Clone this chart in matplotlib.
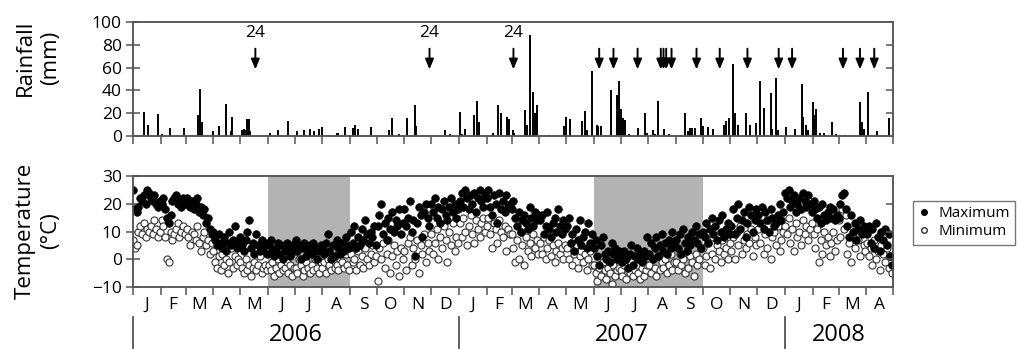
import matplotlib
matplotlib.use('Agg')
import matplotlib.pyplot as plt
import matplotlib.dates as mdates
from matplotlib.lines import Line2D
import numpy as np
import pandas as pd

plt.rcParams['font.family'] = ['Open Sans', 'DejaVu Sans']

start = pd.Timestamp('2006-01-01')
end = pd.Timestamp('2008-05-01')

# rain days (days since 1 Jan 2006) and daily totals in mm
rain_day = [12, 17, 28, 33, 41, 57, 73, 75, 77, 90, 96, 104, 110, 111, 122, 124, 126, 128, 130, 131,
            149, 153, 162, 174, 184, 188, 192, 198, 203, 208, 212, 218, 228, 230, 237, 246, 249, 252,
            267, 287, 290, 298, 307, 316, 317, 349, 355, 366, 368, 372, 382, 385, 387, 403, 409, 412,
            419, 421, 425, 427, 439, 441, 445, 448, 450, 452, 466, 483, 485, 489, 503, 506, 508, 514,
            519, 521, 524, 535, 542, 544, 546, 549, 551, 555, 565, 573, 575, 582, 584, 588, 595, 600,
            618, 622, 624, 626, 629, 636, 638, 644, 649, 662, 664, 667, 672, 674, 678, 686, 691, 698,
            702, 706, 714, 716, 720, 722, 731, 741, 749, 750, 754, 756, 761, 763, 765, 769, 774, 783,
            787, 797, 814, 816, 819, 823, 833, 847]
rain_mm = [21, 10, 19, 2, 7, 7, 18, 41, 12, 4, 9, 28, 4, 17, 5, 6, 5, 15, 15, 4,
           1, 3, 5, 13, 4, 1, 5, 6, 4, 6, 8, 1, 3, 3, 8, 7, 10, 6,
           8, 5, 16, 2, 16, 27, 9, 5, 2, 21, 2, 6, 18, 31, 12, 3, 27, 20,
           17, 15, 5, 3, 23, 10, 89, 39, 20, 27, 1, 9, 17, 15, 13, 22, 5, 57,
           10, 9, 9, 40, 36, 48, 24, 16, 14, 2, 7, 20, 3, 5, 2, 31, 6, 2,
           20, 4, 7, 7, 7, 16, 9, 8, 6, 10, 13, 16, 63, 20, 10, 20, 10, 11,
           48, 25, 38, 6, 51, 5, 8, 6, 46, 17, 10, 5, 30, 18, 24, 3, 3, 12,
           2, 1, 30, 12, 6, 39, 4, 16]

# marked events
arrow_day = [137, 332, 426, 522, 538, 565, 591, 594, 597, 603, 631, 657, 688, 723, 738, 795, 814, 830]
arrow_label = ['24', '24', '24'] + [''] * 15

# daily max / min temperature (degC), one reading every 2 days from 1 Jan 2006
tmax = [25, 18, 17, 19, 22, 21, 23, 20, 25, 24, 22, 21, 23, 20, 19, 21,   # Jan 06
        20, 22, 18, 15, 13, 16, 21, 22, 23, 20, 21, 19, 22, 20,           # Feb
        22, 20, 19, 21, 18, 20, 22, 17, 19, 16, 18, 13, 15, 11, 9,        # Mar
        10, 7, 5, 9, 6, 4, 8, 3, 6, 10, 5, 7, 12, 4, 6,                   # Apr
        8, 5, 3, 7, 10, 14, 4, 6, 2, 9, 5, 3, 7, 4, 6, 2,                 # May
        5, 7, 3, 1, 4, 6, 2, 5, 0, 3, 6, 4, 1, 5, 3,                      # Jun
        7, 3, 5, 0, 4, 6, 1, 3, 5, 2, 6, 4, 0, 3, 5,                      # Jul
        4, 2, 6, 9, 3, 0, 5, 1, 7, 4, 2, 6, 3, 8, 5, 4,                   # Aug
        10, 6, 12, 4, 8, 5, 11, 7, 14, 9, 6, 10, 8, 12, 5,                # Sep
        12, 16, 20, 9, 13, 7, 15, 11, 17, 10, 14, 12, 18, 9, 13,          # Oct
        18, 12, 15, 21, 10, 14, 1, 13, 19, 16, 8, 17, 20, 15, 12,         # Nov
        20, 17, 22, 15, 19, 13, 18, 21, 16, 14, 19, 22, 17, 20, 15, 18,   # Dec
        21, 24, 19, 25, 22, 18, 23, 20, 24, 17, 22, 25, 21, 19, 23,       # Jan 07
        22, 25, 19, 16, 23, 20, 13, 24, 18, 21, 17, 23, 19, 20,           # Feb
        18, 21, 15, 12, 17, 10, 14, 16, 13, 11, 19, 15, 12, 17, 14, 16,   # Mar
        14, 16, 9, 12, 17, 11, 8, 13, 15, 10, 18, 12, 9, 14, 11,          # Apr
        12, 15, 6, 9, 3, 11, 7, 14, 5, 8, 10, 4, 13, 6, 9,                # May
        4, 7, 1, -2, 5, 8, 2, 0, 3, -1, 6, 2, 4, 0, 3,                    # Jun
        1, -1, 3, 0, -3, 2, 5, -2, 1, 4, 0, 2, -1, 3, 1, 8,               # Jul
        2, 6, 0, 4, 8, 1, 5, 9, 3, 6, 2, 7, 4, 10, 5,                     # Aug
        7, 4, 9, 2, 11, 6, 3, 8, 5, 10, 7, 12, 6, 9, 4,                   # Sep
        10, 8, 13, 6, 11, 15, 9, 12, 7, 14, 10, 16, 8, 11, 13, 9,         # Oct
        12, 18, 9, 15, 20, 11, 14, 17, 8, 13, 19, 16, 10, 14, 18,         # Nov
        16, 13, 19, 11, 17, 14, 10, 18, 15, 12, 13, 16, 20, 14, 17,       # Dec
        24, 22, 25, 19, 21, 23, 17, 20, 22, 18, 24, 21, 19, 23, 20, 17,   # Jan 08
        21, 18, 15, 19, 13, 20, 16, 14, 17, 19, 15, 18, 14, 16,           # Feb
        15, 20, 23, 24, 18, 12, 8, 16, 10, 13, 7, 11, 14, 9, 12, 10,      # Mar
        9, 12, 6, 11, 4, 13, 8, 3, 10, 7, 11, 5, 9, 1, -2]                # Apr
tmin = [7, 4, 5, 10, 12, 9, 13, 8, 11, 10, 12, 9, 14, 11, 8, 10,          # Jan 06
        14, 12, 8, 0, -1, 10, 7, 9, 11, 13, 8, 10, 12, 9,                 # Feb
        11, 8, 5, 10, 9, 7, 12, 6, 3, 8, 10, 5, 7, 2, 6,                  # Mar
        3, -1, -3, 1, -4, 2, -2, 0, -5, -1, 4, -3, 1, -2, 0,              # Apr
        -1, -3, -5, 0, -4, -2, -6, -3, -1, -4, -2, 1, -5, -3, -2, -4,     # May
        -2, -4, -1, -6, -3, 0, -5, -2, -4, -3, -1, -5, -2, -6, -3,        # Jun
        -3, -5, 0, -2, -6, -4, -1, -3, -5, -2, -4, 0, -3, -5, -1,         # Jul
        -3, -1, -5, 0, -2, -4, 1, -3, -2, -4, 0, -1, -3, 2, -2, -4,       # Aug
        2, -1, 0, -4, 3, -2, 1, -3, 4, 0, -2, 2, 5, -1, 1,                # Sep
        -8, 4, 0, 6, -3, 2, 7, -5, 1, 5, -2, 3, -6, 4, 0,                 # Oct
        3, -4, 6, 8, -2, 4, 0, 7, -5, 5, 2, 9, -1, 6, 3,                  # Nov
        9, 2, 6, 11, 0, 8, 4, 12, 7, -1, 10, 5, 13, 3, 8, 6,              # Dec
        13, 8, 15, 10, 5, 12, 16, 9, 6, 14, 11, 8, 13, 15, 10,            # Jan 07
        12, 15, 9, 4, 13, 11, 6, 14, 10, 8, 12, 3, 11, 9,                 # Feb
        9, 4, -1, 7, 0, 10, 5, -2, 8, 3, 6, 1, 9, 4, 7, 2,                # Mar
        6, 2, 8, 0, 4, 7, 1, 5, -1, 3, 6, 2, 4, 0, 5,                     # Apr
        4, 0, 6, -2, 2, 5, -3, 1, 3, -1, 2, -4, 0, 3, -2,                 # May
        -2, -5, -8, -3, -6, -1, -4, -7, -3, -5, -9, -2, -6, -4, -3,       # Jun
        -4, -6, -2, -7, -3, -5, -1, -6, -4, -2, -5, -7, -3, -6, -4, -2,   # Jul
        -2, -5, 0, -3, -6, 1, -4, -1, -3, 0, -5, -2, 2, -4, -1,           # Aug
        -1, -4, 2, -2, 0, -5, 3, -3, 1, -1, -6, 2, -2, 0, 4,              # Sep
        4, -2, 1, 6, -3, 2, 8, 0, 5, 3, -1, 7, 2, 4, 0, 6,                # Oct
        3, 8, 0, 10, 5, 12, 2, 7, 4, 9, 6, 11, 1, 8, 5,                   # Nov
        11, 6, 13, 2, 9, 4, 14, 0, 8, 10, 5, 12, 3, 7, 10,                # Dec
        12, 9, 15, 6, 11, 3, 13, 8, 10, 5, 14, 9, 12, 7, 11, 13,          # Jan 08
        9, 4, 11, -1, 7, 2, 10, 5, 8, 1, 6, 10, 3, 7,                     # Feb
        14, 8, 18, 11, 16, 2, 6, -1, 9, 4, 12, 7, 1, 10, 5, 3,            # Mar
        6, 1, 4, -2, 7, 0, 3, -4, 5, 2, -1, 4, -3, 1, -5]                 # Apr

month_letters = list('JFMAMJJASOND')
years = ['2006', '2007', '2008']
winters = [('2006-06-01', '2006-09-01'), ('2007-06-01', '2007-10-01')]


def day_num(days):
    return mdates.date2num((start + pd.to_timedelta(np.asarray(days), unit='D')).to_pydatetime())


spine_col = '#555555'
W, H = 1020, 349
fig = plt.figure(figsize=(W / 100, H / 100), dpi=100)
left, width = 133 / W, 760 / W
ax_r = fig.add_axes([left, 1 - 136 / H, width, 114 / H])
ax_t = fig.add_axes([left, 1 - 287 / H, width, 111 / H])

x0, x1 = mdates.date2num(start.to_pydatetime()), mdates.date2num(end.to_pydatetime())
months = pd.date_range(start, end, freq='MS')
m_num = mdates.date2num(months.to_pydatetime())
mids = (m_num[:-1] + m_num[1:]) / 2

# ---- rainfall panel
ax_r.vlines(day_num(rain_day), 0, rain_mm, color='black', lw=1.4)
for d, lab in zip(arrow_day, arrow_label):
    xd = day_num([d])[0]
    ax_r.annotate('', xy=(xd, 56), xytext=(xd, 79),
                  arrowprops=dict(arrowstyle='-|>,head_length=0.6,head_width=0.25', color='black', lw=1.4))
    if lab:
        ax_r.text(xd, 83, lab, ha='center', va='bottom', fontsize=12.5)
ax_r.set_ylim(0, 100)
ax_r.set_yticks(range(0, 101, 20))
ax_r.set_xlim(x0, x1)
ax_r.set_xticks(m_num)
ax_r.set_xticklabels([])
ax_r.tick_params(axis='x', direction='out', length=6, width=1.1, color=spine_col)
ax_r.tick_params(axis='y', direction='inout', length=10, width=1.1, color=spine_col, labelsize=12.5, pad=3)
rr = ax_r.twinx()
rr.set_ylim(0, 100)
rr.set_yticks([20, 40, 60, 80])
rr.set_yticklabels([])
rr.tick_params(axis='y', direction='in', length=5, width=1.1, color=spine_col)

# ---- temperature panel
for a, b in winters:
    ax_t.axvspan(pd.Timestamp(a), pd.Timestamp(b), color='#b3b3b3', lw=0, zorder=0)
t_dates = mdates.date2num(pd.date_range(start, periods=len(tmax), freq='2D').to_pydatetime())
ax_t.scatter(t_dates, tmin, s=26, c='white', edgecolors='#333333', linewidths=0.8, zorder=2)
ax_t.scatter(t_dates, tmax, s=30, c='black', edgecolors='black', linewidths=0.5, zorder=3)
ax_t.set_ylim(-10, 30)
ax_t.set_yticks(range(-10, 31, 10))
ax_t.set_xlim(x0, x1)
ax_t.set_xticks(m_num)
ax_t.set_xticklabels([])
ax_t.set_xticks(mids, minor=True)
ax_t.set_xticklabels([month_letters[m.month - 1] for m in months[:-1]], minor=True)
ax_t.tick_params(axis='x', which='major', direction='out', length=6, width=1.1, color=spine_col)
ax_t.tick_params(axis='x', which='minor', length=0, labelsize=12.5, pad=7)
ax_t.tick_params(axis='y', direction='inout', length=10, width=1.1, color=spine_col, labelsize=12.5, pad=3)
tr = ax_t.twinx()
tr.set_ylim(-10, 30)
tr.set_yticks([0, 10, 20])
tr.set_yticklabels([])
tr.tick_params(axis='y', direction='in', length=5, width=1.1, color=spine_col)

for a in (ax_r, rr, ax_t, tr):
    for s in a.spines.values():
        s.set_color(spine_col)
        s.set_linewidth(1.1)

# year separators and labels below the month letters
year_starts = pd.date_range('2006-01-01', '2008-01-01', freq='YS')
trans = ax_t.get_xaxis_transform()
for ys in year_starts:
    xv = mdates.date2num(ys.to_pydatetime())
    ax_t.plot([xv, xv], [-0.27, -0.56], transform=trans, color='#444444', lw=1.2, clip_on=False)
year_edges = list(mdates.date2num(year_starts.to_pydatetime())) + [x1]
for yl, a, b in zip(years, year_edges[:-1], year_edges[1:]):
    ax_t.text((a + b) / 2, -0.43, yl, transform=trans, ha='center', va='center', fontsize=17)

fig.text(38 / W, 1 - 58 / H, 'Rainfall\n(mm)', rotation=90, ha='center', va='center',
         fontsize=16, linespacing=1.3, multialignment='center')
fig.text(38 / W, 1 - 231 / H, 'Temperature\n(°C)', rotation=90, ha='center', va='center',
         fontsize=16, linespacing=1.3, multialignment='center')

handles = [Line2D([], [], marker='o', ls='', color='black', markersize=4),
           Line2D([], [], marker='o', ls='', markerfacecolor='white', markeredgecolor='#333333', markersize=4)]
leg = fig.legend(handles, ['Maximum', 'Minimum'], loc='upper left', bbox_to_anchor=(913 / W, 1 - 201 / H),
                 frameon=True, fancybox=False, fontsize=11, handlelength=0.8, handletextpad=0.5,
                 borderpad=0.35, labelspacing=0.2, borderaxespad=0)
leg.get_frame().set_edgecolor(spine_col)
leg.get_frame().set_linewidth(1.0)

fig.savefig('out.png', dpi=100)
